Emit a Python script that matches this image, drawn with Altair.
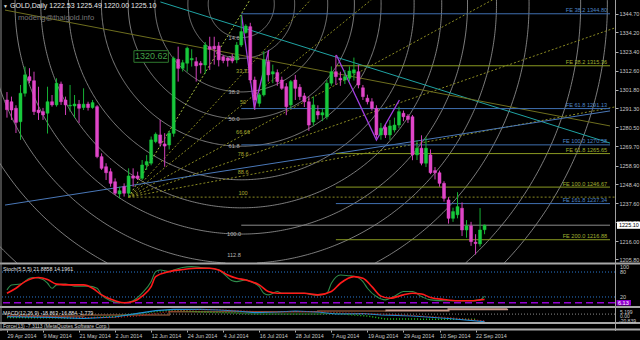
import altair as alt
import numpy as np
import pandas as pd

# ---------------- values ----------------
date_labels = ["29 Apr 2014", "9 May 2014", "21 May 2014", "2 Jun 2014", "12 Jun 2014",
               "24 Jun 2014", "4 Jul 2014", "16 Jul 2014", "28 Jul 2014", "7 Aug 2014",
               "19 Aug 2014", "29 Aug 2014", "10 Sep 2014", "22 Sep 2014"]
date_bars = [0, 8, 16, 24, 32, 40, 48, 56, 64, 72, 80, 88, 96, 104]

opens = [1296.0, 1295.0, 1291.3, 1283.7, 1299.8, 1309.2, 1306.9, 1290.3, 1289.4, 1288.5,
         1295.0, 1293.2, 1305.0, 1296.0, 1292.6, 1292.6, 1293.6, 1291.7, 1293.7, 1291.7,
         1292.2, 1263.9, 1258.2, 1255.4, 1249.7, 1242.8, 1246.9, 1243.2, 1253.0, 1253.0,
         1251.7, 1259.2, 1260.2, 1272.4, 1276.2, 1271.1, 1270.5, 1277.1, 1319.0, 1313.9,
         1316.8, 1318.7, 1317.7, 1316.8, 1315.8, 1326.2, 1326.4, 1326.6, 1320.5, 1319.8,
         1319.6, 1318.7, 1327.1, 1334.2, 1337.5, 1307.3, 1294.1, 1298.9, 1317.7, 1310.7,
         1311.5, 1307.3, 1303.5, 1293.2, 1307.3, 1303.2, 1298.3, 1295.0, 1283.5, 1289.5,
         1287.5, 1286.5, 1305.5, 1312.0, 1308.3, 1307.3, 1308.3, 1311.2, 1312.0, 1302.9,
         1297.0, 1295.0, 1291.3, 1276.2, 1280.5, 1276.2, 1279.0, 1281.8, 1288.5, 1286.9,
         1286.5, 1264.9, 1268.7, 1260.2, 1264.9, 1256.0, 1254.8, 1248.8, 1239.4, 1229.0,
         1231.0, 1234.7, 1222.4, 1224.7, 1215.5, 1214.5, 1222.53]
highs = [1300.5, 1297.9, 1293.0, 1304.5, 1314.9, 1314.0, 1312.0, 1303.5, 1291.5, 1303.5,
         1298.8, 1308.3, 1306.4, 1297.9, 1304.5, 1298.8, 1296.0, 1302.6, 1295.0, 1296.0,
         1293.1, 1265.8, 1260.2, 1257.3, 1251.6, 1246.9, 1248.8, 1257.3, 1257.3, 1255.4,
         1262.0, 1264.8, 1275.3, 1277.6, 1284.7, 1277.2, 1278.5, 1320.6, 1326.2, 1318.7,
         1326.2, 1324.7, 1320.2, 1318.0, 1328.8, 1331.8, 1331.8, 1328.8, 1321.4, 1320.2,
         1322.1, 1328.8, 1344.1, 1338.9, 1339.7, 1309.2, 1300.0, 1323.6, 1323.6, 1316.0,
         1313.3, 1309.2, 1305.5, 1307.3, 1310.2, 1305.0, 1300.0, 1298.0, 1298.0, 1293.0,
         1291.0, 1307.3, 1315.0, 1321.5, 1312.0, 1313.0, 1315.0, 1320.0, 1316.0, 1304.5,
         1299.0, 1297.0, 1293.0, 1283.0, 1282.0, 1284.7, 1286.0, 1292.2, 1290.0, 1288.0,
         1287.5, 1273.0, 1276.0, 1275.0, 1268.0, 1258.0, 1256.0, 1250.0, 1241.0, 1235.0,
         1243.8, 1238.0, 1228.0, 1227.0, 1220.0, 1234.8, 1225.49]
lows = [1286.0, 1284.7, 1277.3, 1273.4, 1297.9, 1305.5, 1287.5, 1284.7, 1284.7, 1277.0,
        1292.2, 1292.2, 1293.2, 1287.5, 1289.4, 1285.8, 1283.0, 1290.3, 1290.0, 1291.0,
        1263.0, 1256.4, 1250.7, 1246.9, 1242.2, 1240.3, 1241.3, 1241.3, 1246.9, 1250.7,
        1250.7, 1256.4, 1259.0, 1271.5, 1269.6, 1258.2, 1268.0, 1275.2, 1306.4, 1312.1,
        1312.0, 1314.9, 1306.4, 1311.0, 1311.0, 1313.0, 1316.0, 1315.0, 1316.8, 1314.9,
        1316.8, 1316.8, 1326.0, 1333.5, 1305.5, 1290.3, 1292.2, 1298.0, 1306.4, 1305.5,
        1304.0, 1301.7, 1287.4, 1291.3, 1296.0, 1295.9, 1292.0, 1278.5, 1281.5, 1285.0,
        1284.0, 1285.0, 1304.0, 1304.5, 1304.0, 1305.0, 1306.4, 1307.0, 1302.6, 1296.0,
        1293.5, 1290.0, 1274.5, 1273.5, 1274.5, 1273.4, 1277.6, 1280.0, 1284.0, 1283.0,
        1261.9, 1262.0, 1259.0, 1258.0, 1254.0, 1251.0, 1246.9, 1238.5, 1226.0, 1227.0,
        1229.0, 1219.0, 1218.0, 1213.4, 1208.5, 1213.0, 1220.00]
closes = [1290.5, 1290.3, 1283.3, 1299.8, 1310.2, 1306.9, 1289.4, 1288.8, 1287.5, 1295.0,
          1293.2, 1305.5, 1295.0, 1293.2, 1293.0, 1293.7, 1291.3, 1293.6, 1291.7, 1294.5,
          1263.9, 1257.3, 1254.8, 1248.8, 1243.2, 1244.6, 1243.2, 1253.0, 1251.7, 1251.6,
          1259.2, 1261.1, 1273.4, 1276.6, 1271.5, 1269.9, 1277.2, 1319.6, 1313.9, 1317.1,
          1325.3, 1319.5, 1315.3, 1315.8, 1327.1, 1324.7, 1324.9, 1318.7, 1318.3, 1318.3,
          1318.1, 1327.1, 1334.7, 1337.9, 1307.3, 1296.0, 1298.9, 1318.7, 1310.2, 1312.0,
          1306.4, 1302.6, 1292.2, 1306.4, 1302.6, 1297.9, 1295.0, 1281.8, 1293.2, 1287.5,
          1288.8, 1305.5, 1312.0, 1309.2, 1307.3, 1309.2, 1312.4, 1313.1, 1304.5, 1297.9,
          1295.0, 1291.3, 1276.2, 1280.0, 1276.2, 1281.3, 1281.8, 1289.4, 1286.5, 1285.0,
          1264.9, 1268.7, 1260.2, 1268.7, 1254.8, 1254.8, 1248.8, 1240.3, 1229.0, 1232.8,
          1235.6, 1222.4, 1224.7, 1215.8, 1214.7, 1222.4, 1225.10]

price_ticks = [1344.70, 1334.20, 1323.40, 1312.60, 1301.80, 1291.30, 1280.50, 1269.70,
               1258.90, 1248.40, 1237.60, 1226.80, 1216.00, 1205.80]

# Stochastic (main %K green, signal %D red)
stoch_k_bars = [0, 1, 3, 5, 6, 8, 9, 10, 11, 13, 14, 15, 16, 18, 20, 21, 23, 25, 26, 28,
                30, 32, 33, 34, 36, 37, 39, 41, 43, 45, 47, 48, 50, 51, 53, 54, 56, 57, 58, 60,
                61, 64, 66, 68, 69, 71, 72, 74, 76, 77, 79, 80, 82, 84, 86, 88, 90, 92, 94, 97,
                100, 103, 105, 106]
stoch_k_vals = [37, 49, 51, 65, 67, 62, 53, 41, 49, 51, 49, 46, 46, 46, 41, 25, 11, 6, 6, 11,
                29, 57, 81, 85, 81, 85, 91, 93, 91, 89, 85, 77, 59, 57, 61, 57, 45, 29, 25, 33,
                29, 29, 29, 25, 24, 29, 53, 73, 71, 70, 57, 41, 21, 13, 22, 33, 33, 21, 13, 11,
                11, 11, 13, 21.9]
stoch_d_bars = [0, 2, 4, 7, 9, 11, 14, 17, 19, 21, 24, 26, 28, 30, 32, 33, 36, 39, 42, 45,
                47, 49, 51, 53, 56, 58, 60, 63, 66, 69, 72, 74, 77, 79, 81, 83, 85, 88, 90, 92,
                94, 97, 100, 103, 105, 106]
stoch_d_vals = [29, 41, 57, 67, 62, 51, 49, 49, 41, 25, 11, 6, 9, 22, 45, 69, 81, 86, 89, 89,
                85, 73, 65, 61, 49, 33, 29, 29, 29, 25, 33, 53, 69, 65, 45, 22, 17, 25, 29, 27,
                19, 14, 11, 11, 13, 14.2]
stoch_levels = [80, 20]
stoch_extra_level = 6.13

# MACD panel
macd_bars = [0, 10, 17, 24, 29, 33, 37, 43, 47, 51, 55, 60, 64, 69, 73, 79, 83, 90, 98, 106]
macd_main = [-6.5, -8, -10.5, -7.3, 2, 8.5, 12, 12, 10.3, 7.8, 3.5, 5.3, 7.8, 5.3, 0.3, 1.5,
             -2.3, -4.8, -11, -18.86]
macd_signal = [-4.8, -6.5, -8.5, -8.5, -4.8, 1.5, 7.8, 10.8, 10.8, 9, 6.5, 5.3, 6.5, 6.5, 4,
               1.5, 0.3, -3.5, -8.5, -16.88]
brown_bars = [0, 17, 36, 69, 84]
brown_vals = [-4.8, -2.3, 6, 7.8, 9]
tan_bars = [84, 98, 111]
tan_vals = [9, 12, 13.5]
gdot_bars = [0, 17, 24, 29, 33, 37, 43, 50, 55, 69, 73, 80, 84, 104]
gdot_vals = [-8.5, -9.8, -6, 1.5, 6.5, 10.3, 5.3, 2.8, 0.3, 0.3, 2, -4.8, -12.3, -13]

# drawn objects
arc_levels = [14.6, 23.6, 38.2, 50.0, 61.8, 76.4, 88.6, 100.0, 112.8, 127.2, 150.0, 161.8, 200.0, 261.8]
arc_label_levels = [14.6, 23.6, 38.2, 50.0, 61.8, 100.0, 112.8]
arc_center = (52.0, 1350.3)      # bar, price
arc_unit_px = 230                 # radius of the 100 % arc on screen

fan_origin = (27.0, 1241.0)
fan_peak = (52.0, 1344.7)
fan_levels = [0, 33.33, 50, 66.66, 78.6, 88.6, 100]

zz_group = ["a", "a", "a", "b", "b", "b"]
zz_bars = [52.07, 54.9, 58.1, 73.1, 82.0, 87.1]
zz_prices = [1344.1, 1291.3, 1324.3, 1321.5, 1273.3, 1296.0]

trend_names = ["teal", "teal", "olive", "olive", "blue", "blue"]
trend_bars = [34.06, 133.84, -0.44, 133.84, -0.44, 133.84]
trend_prices = [1351.5, 1271.6, 1346.9, 1281.3, 1236.5, 1289.8]

fe_levels = ["38.2", "38.2", "61.8", "100.0", "61.8", "100.0", "161.8", "200.0"]
fe_prices = [1344.80, 1315.36, 1291.13, 1270.58, 1265.65, 1246.67, 1237.34, 1216.88]
fe_groups = ["blue", "olive", "blue", "blue", "olive", "olive", "blue", "olive"]
fe_start = [52, 73, 52, 52, 73, 73, 73, 73]

price_label = (32.0, 1320.62)
bid = closes[-1]

# ---------------- geometry / scales ----------------
W, H = 615, 330
MAIN_BOTTOM = 263
X_DOM = [-0.437, 133.84]
P_DOM = [1203.7, 1352.6]
px_per_bar = W / (X_DOM[1] - X_DOM[0])
px_per_usd = MAIN_BOTTOM / (P_DOM[1] - P_DOM[0])

FONT = "Liberation Sans"
GREEN, PINK = "#18c83c", "#e046c8"
GREEN_W, PINK_W = "#16b034", "#d040b8"
BLUE_L, OLIVE_L = "#3f6fb0", "#8a9a22"

XS = alt.Scale(domain=X_DOM, nice=False, zero=False)
PS = alt.Scale(domain=P_DOM, range=[MAIN_BOTTOM, 0], nice=False, zero=False)
SS = alt.Scale(domain=[0, 100], range=[305.3, 263.7], nice=False, zero=False)
MS = alt.Scale(domain=[-21, 14], range=[322.5, 308.5], nice=False, zero=False)

label_expr = ("[" + ",".join("'%s'" % d for d in date_labels) + "][indexof(["
              + ",".join(str(b) for b in date_bars) + "], datum.value)]")
XAX = alt.Axis(values=date_bars, labelExpr=label_expr, title=None, grid=False, domain=False,
               labelAlign="left", labelBaseline="top", labelColor="#c8c8c8", labelFont=FONT,
               labelFontSize=5.4, labelPadding=1, tickSize=2, tickColor="#b0b0b0",
               labelOverlap=False, labelBound=False, labelFlush=False)
PAX = alt.Axis(orient="right", values=price_ticks, format=".2f", title=None, grid=False,
               domain=False, labelColor="#c8c8c8", labelFont=FONT, labelFontSize=5.5,
               labelPadding=1, tickSize=3, tickColor="#b0b0b0", labelOverlap=False,
               labelBound=False, labelFlush=False)


def xq(f):
    return alt.X(f, type="quantitative", scale=XS, axis=XAX)


def yq(f, s):
    return alt.Y(f, type="quantitative", scale=s, axis=None)


layers = []

# ---- arcs (circles around the July top), cut at the panel bottom ----
rows = []
cb, cp = arc_center
for lev in arc_levels:
    r = lev / 100 * arc_unit_px
    ang = np.linspace(0, 2 * np.pi, 721)
    bs = cb + r * np.cos(ang) / px_per_bar
    ps = cp - r * np.sin(ang) / px_per_usd
    seg, prev_in, k = 0, False, 0
    for j in range(len(ang)):
        inside = ps[j] >= P_DOM[0]
        if inside and not prev_in:
            seg += 1
            if j > 0:
                t = (P_DOM[0] - ps[j - 1]) / (ps[j] - ps[j - 1])
                rows.append(dict(seg=f"{lev}-{seg}", k=k, b=bs[j - 1] + t * (bs[j] - bs[j - 1]), p=P_DOM[0])); k += 1
        if inside:
            rows.append(dict(seg=f"{lev}-{seg}", k=k, b=bs[j], p=ps[j])); k += 1
        if (not inside) and prev_in:
            t = (P_DOM[0] - ps[j - 1]) / (ps[j] - ps[j - 1])
            rows.append(dict(seg=f"{lev}-{seg}", k=k, b=bs[j - 1] + t * (bs[j] - bs[j - 1]), p=P_DOM[0])); k += 1
        prev_in = inside
arc_df = pd.DataFrame(rows)
layers.append(alt.Chart(arc_df).mark_line(clip=True, strokeWidth=0.8, color="#9c9c9c").encode(
    x=xq("b"), y=yq("p", PS), detail="seg:N", order="k:Q"))

arc_lab_p = [max(cp - l / 100 * arc_unit_px / px_per_usd, P_DOM[0] + 8 / px_per_usd) for l in arc_label_levels]
arc_lab = pd.DataFrame(dict(t=["%.1f" % l for l in arc_label_levels],
                            b=[cb - 1.6] * len(arc_label_levels), p=arc_lab_p))
layers.append(alt.Chart(arc_lab).mark_text(font=FONT, fontSize=5.6, color="#b4b4b4", baseline="middle").encode(
    x=xq("b"), y=yq("p", PS), text="t:N"))

# ---- fan lines ----
ob, op = fan_origin
fan_rows, fan_lab = [], []
for lev in fan_levels:
    tp = fan_peak[1] - lev / 100 * (fan_peak[1] - op)
    slope = (tp - op) / (fan_peak[0] - ob)
    kind = "zero" if lev == 0 else "lev"
    fan_rows.append(dict(lev=str(lev), kind=kind, k=0, b=ob, p=op))
    fan_rows.append(dict(lev=str(lev), kind=kind, k=1, b=X_DOM[1] + 1, p=op + slope * (X_DOM[1] + 1 - ob)))
    if lev > 0:
        fan_lab.append(dict(t=("%g" % lev), b=fan_peak[0] + 0.4, p=tp))
layers.append(alt.Chart(pd.DataFrame(fan_rows)).mark_line(clip=True, strokeWidth=1, strokeDash=[2, 2]).encode(
    x=xq("b"), y=yq("p", PS), detail="lev:N", order="k:Q",
    color=alt.Color("kind:N", scale=alt.Scale(domain=["zero", "lev"], range=["#a8c040", "#8a8a22"]), legend=None)))
layers.append(alt.Chart(pd.DataFrame(fan_lab)).mark_text(font=FONT, fontSize=5.6, color="#a8a830", baseline="bottom", dy=-1).encode(
    x=xq("b"), y=yq("p", PS), text="t:N"))

# ---- trend lines ----
tr = pd.DataFrame(dict(n=trend_names, b=trend_bars, p=trend_prices))
layers.append(alt.Chart(tr).mark_line(clip=True, strokeWidth=1).encode(
    x=xq("b"), y=yq("p", PS), detail="n:N",
    color=alt.Color("n:N", scale=alt.Scale(domain=["teal", "olive", "blue"], range=["#1fa3a3", "#6e6e1e", "#4a78b8"]), legend=None)))

# ---- FE horizontal lines ----
fe = pd.DataFrame(dict(t=["FE %s %.2f" % (a, b) for a, b in zip(fe_levels, fe_prices)], p=fe_prices,
                       g=fe_groups, b0=fe_start, b1=[X_DOM[1]] * len(fe_prices), bl=[133.2] * len(fe_prices)))
fe_col = alt.Color("g:N", scale=alt.Scale(domain=["blue", "olive"], range=[BLUE_L, OLIVE_L]), legend=None)
layers.append(alt.Chart(fe).mark_rule(strokeWidth=1).encode(x=xq("b0"), x2="b1", y=yq("p", PS), color=fe_col))
layers.append(alt.Chart(fe).mark_text(font=FONT, fontSize=5.6, align="right", baseline="bottom", dy=-0.5).encode(
    x=xq("bl"), y=yq("p", PS), text="t:N",
    color=alt.Color("g:N", scale=alt.Scale(domain=["blue", "olive"], range=["#4f86c6", "#a0b030"]), legend=None)))

# bid line
bid_df = pd.DataFrame(dict(b0=[52], b1=[X_DOM[1]], p=[bid]))
layers.append(alt.Chart(bid_df).mark_rule(strokeWidth=1, color="#8c8c8c").encode(x=xq("b0"), x2="b1", y=yq("p", PS)))

# ---- zigzags ----
zz = pd.DataFrame(dict(g=zz_group, b=zz_bars, p=zz_prices, k=list(range(len(zz_bars)))))
layers.append(alt.Chart(zz).mark_line(strokeWidth=1.3, color="#a23ee0").encode(
    x=xq("b"), y=yq("p", PS), detail="g:N", order="k:Q"))

# ---- candles ----
n = len(opens)
cd = pd.DataFrame(dict(i=range(n), o=opens, h=highs, l=lows, c=closes))
cd["dir"] = np.where(cd.c >= cd.o, "bull", "bear")
cd["b0"] = cd[["o", "c"]].min(axis=1)
cd["b1"] = cd[["o", "c"]].max(axis=1)
layers.append(alt.Chart(cd).mark_rule(strokeWidth=1).encode(
    x=xq("i"), y=alt.Y("l:Q", scale=PS, axis=PAX), y2="h",
    color=alt.Color("dir:N", scale=alt.Scale(domain=["bull", "bear"], range=[GREEN_W, PINK_W]), legend=None)))
layers.append(alt.Chart(cd).mark_bar(size=3, strokeWidth=0.5).encode(
    x=xq("i"), y=yq("b0", PS), y2="b1",
    fill=alt.Fill("dir:N", scale=alt.Scale(domain=["bull", "bear"], range=[GREEN, PINK]), legend=None),
    stroke=alt.Stroke("dir:N", scale=alt.Scale(domain=["bull", "bear"], range=[GREEN, PINK]), legend=None)))

# ---- price label box ----
lb, lp = price_label
pl = pd.DataFrame(dict(b=[lb], p=[lp], t=["%.2f" % lp], b0=[lb - 17.5 / px_per_bar], b1=[lb + 17.5 / px_per_bar],
                       p0=[lp - 5.8 / px_per_usd], p1=[lp + 5.8 / px_per_usd]))
layers.append(alt.Chart(pl).mark_rect(fill="black", stroke="#2f7a2f", strokeWidth=1).encode(
    x=xq("b0"), x2="b1", y=yq("p0", PS), y2="p1"))
layers.append(alt.Chart(pl).mark_text(font=FONT, fontSize=9, color="#43a047", baseline="middle").encode(
    x=xq("b"), y=yq("p", PS), text="t:N"))

# ---- stochastic panel ----
for lv in stoch_levels:
    layers.append(alt.Chart(pd.DataFrame(dict(v=[lv]))).mark_rule(strokeDash=[1, 2], color="#2a78d0", strokeWidth=1).encode(
        y=yq("v", SS)))
layers.append(alt.Chart(pd.DataFrame(dict(v=[stoch_extra_level]))).mark_rule(strokeDash=[7, 4], color="#9400d3", strokeWidth=1.5).encode(
    y=yq("v", SS)))
sk = pd.DataFrame(dict(b=stoch_k_bars, v=stoch_k_vals))
sdd = pd.DataFrame(dict(b=stoch_d_bars, v=stoch_d_vals))
layers.append(alt.Chart(sk).mark_line(color="#2e8b4a", strokeWidth=1.1, interpolate="monotone").encode(x=xq("b"), y=yq("v", SS)))
layers.append(alt.Chart(sdd).mark_line(color="#ff1a1a", strokeWidth=1.6, interpolate="monotone").encode(x=xq("b"), y=yq("v", SS)))

# ---- MACD panel ----
layers.append(alt.Chart(pd.DataFrame(dict(v=[0]))).mark_rule(strokeDash=[1, 2], color="#8a8a8a").encode(y=yq("v", MS)))
layers.append(alt.Chart(pd.DataFrame(dict(b=brown_bars, v=brown_vals))).mark_line(color="#7a4a30", strokeWidth=1.6, interpolate="step-after").encode(x=xq("b"), y=yq("v", MS)))
layers.append(alt.Chart(pd.DataFrame(dict(b=tan_bars, v=tan_vals))).mark_line(color="#c89a8a", strokeWidth=2, interpolate="step-after").encode(x=xq("b"), y=yq("v", MS)))
layers.append(alt.Chart(pd.DataFrame(dict(b=gdot_bars, v=gdot_vals))).mark_line(color="#22cc22", strokeWidth=1.5, strokeDash=[1, 2]).encode(x=xq("b"), y=yq("v", MS)))
md = pd.DataFrame(dict(b=macd_bars, m=macd_main, s=macd_signal))
layers.append(alt.Chart(md).mark_line(color="#1f8fd6", strokeWidth=1.2).encode(x=xq("b"), y=yq("m", MS)))
layers.append(alt.Chart(md).mark_line(color="#e02020", strokeWidth=1, strokeDash=[1, 2]).encode(x=xq("b"), y=yq("s", MS)))

# ---- frame, separators ----
for yy in [263.5, 307, 323, 329.5]:
    layers.append(alt.Chart().mark_rule(color="#a8a8a8", strokeWidth=2).encode(
        x=alt.value(0), x2=alt.value(640), y=alt.value(yy)))
layers.append(alt.Chart().mark_rule(color="#a0a0a0", strokeWidth=1).encode(x=alt.value(615.5), y=alt.value(0), y2=alt.value(331)))
layers.append(alt.Chart().mark_rule(color="#8a8a8a", strokeWidth=1).encode(x=alt.value(1), y=alt.value(0), y2=alt.value(331)))

# ---- texts ----
def txt(s, x, y, size, color, align="left", weight="normal"):
    return alt.Chart().mark_text(text=s, font=FONT, fontSize=size, color=color, align=align,
                                 baseline="middle", fontWeight=weight).encode(x=alt.value(x), y=alt.value(y))


title = "GOLD,Daily  %.2f %.2f %.2f %.2f" % (opens[-1], highs[-1], lows[-1], closes[-1])
layers.append(txt("\u25bc", 3, 6, 5, "#e0e0e0"))
layers.append(txt(title, 10, 6, 7, "#e8e8e8"))
layers.append(txt("modeng@thaigold.info", 18, 17.5, 7.6, "#777777"))
layers.append(txt("Stoch(5,5,5) 21.8858 14.1961", 3, 268.5, 5.3, "#e0e0e0"))
layers.append(txt("MACD(12,26,9) -18.863 -16.884 -1.779", 3, 312.5, 5.2, "#e0e0e0"))
layers.append(txt("Force(13) -7.3113 (MetaQuotes Software Corp.)", 3, 326.2, 5, "#d0d0d0"))

# stochastic & MACD right labels
layers.append(txt("100", 620, 266.5, 5.5, "#c8c8c8"))
layers.append(txt("80", 620, 272, 5.5, "#c8c8c8"))
layers.append(txt("20", 620, 297, 5.5, "#c8c8c8"))
layers.append(alt.Chart().mark_rect(color="#9400d3").encode(x=alt.value(616.5), x2=alt.value(631), y=alt.value(300), y2=alt.value(305.5)))
layers.append(txt("%.2f" % stoch_extra_level, 618, 302.8, 5.5, "#ffffff"))
layers.append(txt("5.199", 620, 311.8, 5, "#c8c8c8"))
layers.append(txt("0.00", 620, 315.8, 5, "#c8c8c8"))
layers.append(txt("-20.839", 619, 320.5, 5, "#c8c8c8"))

# bid price box on the axis
bid_box = pd.DataFrame(dict(p=[bid], t=["%.2f" % bid], p0=[bid - 3.6 / px_per_usd], p1=[bid + 3.6 / px_per_usd]))
layers.append(alt.Chart(bid_box).mark_rect(color="white").encode(
    x=alt.value(617), x2=alt.value(640), y=yq("p0", PS), y2="p1"))
layers.append(alt.Chart(bid_box).mark_text(font=FONT, fontSize=5.5, color="black", align="left", baseline="middle").encode(
    x=alt.value(619), y=yq("p", PS), text="t:N"))

chart = alt.layer(*layers).resolve_scale(
    y="independent", color="independent", fill="independent", stroke="independent"
).properties(
    width=W, height=H, autosize="none",
    padding={"left": 0, "top": 0, "right": 25, "bottom": 10},
    background="black",
).configure_view(stroke=None, fill="black")

chart.save("out.html", embed_options={"renderer": "svg", "actions": False})
